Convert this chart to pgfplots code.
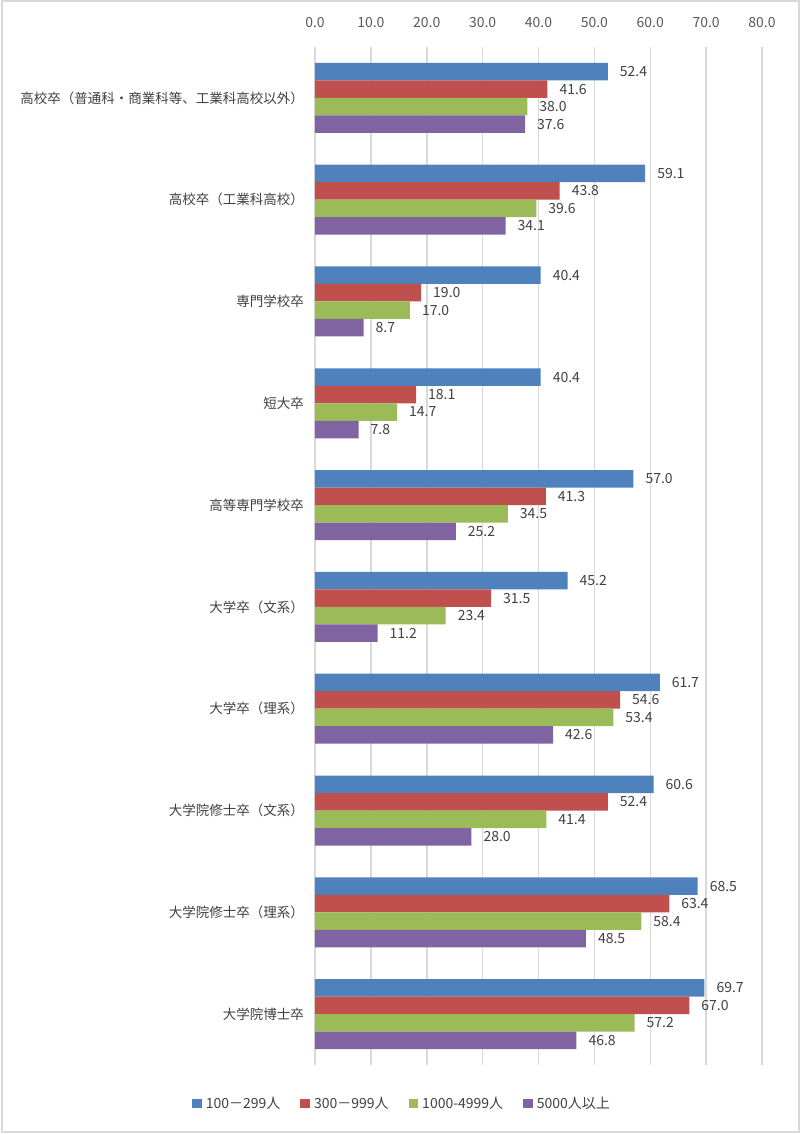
\documentclass[border=0pt]{standalone}
\usepackage{fontspec}
\setmainfont{Noto Sans CJK JP}
\usepackage{pgfplots}
\pgfplotsset{compat=1.18}
\definecolor{cA}{HTML}{4F81BD}
\definecolor{cB}{HTML}{C0504D}
\definecolor{cC}{HTML}{9BBB59}
\definecolor{cD}{HTML}{8064A2}
\definecolor{gridc}{HTML}{D9D9D9}
\definecolor{txt}{HTML}{404040}
\definecolor{tick}{HTML}{595959}
\begin{document}
\fontsize{7pt}{8.4pt}\selectfont
\begin{tikzpicture}[x=1pt,y=1pt]
\path[use as bounding box] (0,0) rectangle (400,567);
\draw[color=gridc, line width=1pt] (0.75,0.75) rectangle (399.25,566.25);
\begin{axis}[
  at={(157.5pt,34.5pt)}, anchor=south west,
  scale only axis, width=223.5pt, height=509pt,
  xbar=0pt, bar width=8.75pt,
  xmin=0, xmax=80, ymin=-0.5, ymax=9.5,
  y dir=reverse,
  axis line style={draw=none},
  major tick length=0pt,
  tick style={draw=none},
  xtick={0,10,...,80},
  xticklabel pos=upper,
  xmajorgrids,
  grid style={color=gridc, line width=0.75pt},
  /pgf/number format/assume math mode=true,
  xticklabel style={color=tick, font=\fontsize{7pt}{8.4pt}\selectfont, yshift=7pt, /pgf/number format/.cd, fixed, fixed zerofill, precision=1},
  ytick={0,...,9},
  yticklabels={高校卒（普通科・商業科等、工業科高校以外）, 高校卒（工業科高校）, 専門学校卒, 短大卒, 高等専門学校卒, 大学卒（文系）, 大学卒（理系）, 大学院修士卒（文系）, 大学院修士卒（理系）, 大学院博士卒},
  yticklabel style={color=txt, font=\fontsize{6.75pt}{8pt}\selectfont, xshift=-3pt},
  point meta=x,
  nodes near coords={\pgfmathprintnumber[fixed,fixed zerofill,precision=1]{\pgfplotspointmeta}},
  nodes near coords style={color=txt, font=\fontsize{7pt}{8.4pt}\selectfont, anchor=west, xshift=3.5pt},
  legend image code/.code={\fill[#1] (0pt,-2.4pt) rectangle (4.8pt,2.4pt);},
  legend style={at={(0.197,-0.038)}, anchor=center, legend columns=4, draw=none, fill=none,
    font=\fontsize{7pt}{8.4pt}\selectfont, text=txt,
    /tikz/every even column/.append style={column sep=8pt}},
]
\addplot[draw=none, fill=cA, bar shift=13.125pt] coordinates {(52.4,0) (59.1,1) (40.4,2) (40.4,3) (57.0,4) (45.2,5) (61.7,6) (60.6,7) (68.5,8) (69.7,9)};
\addplot[draw=none, fill=cB, bar shift=4.375pt] coordinates {(41.6,0) (43.8,1) (19.0,2) (18.1,3) (41.3,4) (31.5,5) (54.6,6) (52.4,7) (63.4,8) (67.0,9)};
\addplot[draw=none, fill=cC, bar shift=-4.375pt] coordinates {(38.0,0) (39.6,1) (17.0,2) (14.7,3) (34.5,4) (23.4,5) (53.4,6) (41.4,7) (58.4,8) (57.2,9)};
\addplot[draw=none, fill=cD, bar shift=-13.125pt] coordinates {(37.6,0) (34.1,1) (8.7,2) (7.8,3) (25.2,4) (11.2,5) (42.6,6) (28.0,7) (48.5,8) (46.8,9)};
\legend{100－299人, 300－999人, 1000-4999人, 5000人以上}
\end{axis}
\end{tikzpicture}
\end{document}
